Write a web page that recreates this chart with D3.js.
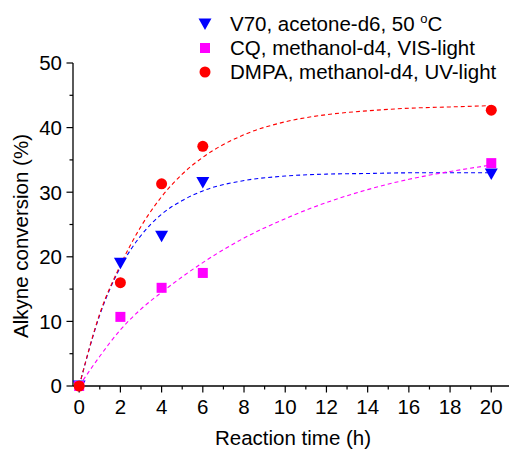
<!DOCTYPE html>
<html>
<head>
<meta charset="utf-8">
<script src="https://cdn.jsdelivr.net/npm/d3@7"></script>
<style>
  body { margin: 0; background: #fff; }
  svg { display: block; font-family: Arial, "Liberation Sans", sans-serif; }
</style>
</head>
<body>
<div id="chart"></div>
<script>
// measured points
const times = [0, 2, 4, 6, 20];
const v70 = [0, 19.0, 23.2, 31.5, 32.8];
const cq = [0, 10.7, 15.2, 17.5, 34.5];
const dmpa = [0, 16.0, 31.3, 37.1, 42.7];

// fitted curves
const fitTimes = [0, 1, 2, 3, 4, 5, 6, 8, 10, 12, 14, 16, 18, 20];
const v70Fit = [0, 11.0, 18.4, 23.3, 26.6, 28.7, 30.2, 31.8, 32.5, 32.8, 32.9, 33.0, 33.0, 33.0];
const cqFit = [0, 4.6, 8.7, 11.9, 14.5, 16.9, 19.1, 22.9, 25.9, 28.4, 30.4, 32.0, 33.2, 34.2];
const dmpaFit = [0, 11.2, 18.7, 24.7, 29.3, 32.8, 35.4, 38.9, 40.9, 42.0, 42.6, 43.0, 43.2, 43.4];

const xTicks = [0, 2, 4, 6, 8, 10, 12, 14, 16, 18, 20];
const yTicks = [0, 10, 20, 30, 40, 50];

const seriesNames = ["V70, acetone-d6, 50 ", "CQ, methanol-d4, VIS-light", "DMPA, methanol-d4, UV-light"];
const colors = ["#0000ff", "#ff00ff", "#ff0000"];
const shapes = ["triangle", "square", "circle"];

const series = [v70, cq, dmpa].map((vals, i) => ({
  name: seriesNames[i],
  color: colors[i],
  shape: shapes[i],
  points: times.map((t, j) => ({ t, v: vals[j] })),
  fit: fitTimes.map((t, j) => ({ t, v: [v70Fit, cqFit, dmpaFit][i][j] }))
}));

const width = 509, height = 449;
const fs = 20.5;

const x = d3.scaleLinear().domain([-0.3, 20.86]).range([73, 509]);
const y = d3.scaleLinear().domain([0, 50]).range([386, 63]);

const svg = d3.select("#chart").append("svg")
  .attr("width", width)
  .attr("height", height)
  .attr("viewBox", [0, 0, width, height]);

// x axis
const xAxis = svg.append("g").attr("transform", `translate(0,${y(0)})`);
xAxis.append("line")
  .attr("x1", x.range()[0]).attr("x2", x.range()[1])
  .attr("stroke", "#000").attr("stroke-width", 1.3);
xAxis.selectAll("line.minor")
  .data(d3.range(1, 21, 2))
  .join("line")
    .attr("class", "minor")
    .attr("x1", d => x(d)).attr("x2", d => x(d))
    .attr("y1", 0).attr("y2", 3.5)
    .attr("stroke", "#000").attr("stroke-width", 1.2);
xAxis.selectAll("line.major")
  .data(xTicks)
  .join("line")
    .attr("class", "major")
    .attr("x1", d => x(d)).attr("x2", d => x(d))
    .attr("y1", 0).attr("y2", 6.5)
    .attr("stroke", "#000").attr("stroke-width", 1.2);
xAxis.selectAll("text")
  .data(xTicks)
  .join("text")
    .attr("x", d => x(d))
    .attr("y", 28)
    .attr("text-anchor", "middle")
    .attr("font-size", fs)
    .text(d => d);

// y axis
const yAxis = svg.append("g").attr("transform", `translate(${x.range()[0]},0)`);
yAxis.append("line")
  .attr("y1", y(0)).attr("y2", y(50))
  .attr("stroke", "#000").attr("stroke-width", 1.3);
yAxis.selectAll("line.minor")
  .data(d3.range(5, 50, 10))
  .join("line")
    .attr("class", "minor")
    .attr("y1", d => y(d)).attr("y2", d => y(d))
    .attr("x1", 0).attr("x2", -3.5)
    .attr("stroke", "#000").attr("stroke-width", 1.2);
yAxis.selectAll("line.major")
  .data(yTicks)
  .join("line")
    .attr("class", "major")
    .attr("y1", d => y(d)).attr("y2", d => y(d))
    .attr("x1", 0).attr("x2", -6.5)
    .attr("stroke", "#000").attr("stroke-width", 1.2);
yAxis.selectAll("text")
  .data(yTicks)
  .join("text")
    .attr("x", -11)
    .attr("y", d => y(d))
    .attr("dy", "0.36em")
    .attr("text-anchor", "end")
    .attr("font-size", fs)
    .text(d => d);

// axis titles
svg.append("text")
  .attr("x", 293)
  .attr("y", 445)
  .attr("text-anchor", "middle")
  .attr("font-size", fs)
  .text("Reaction time (h)");

svg.append("text")
  .attr("transform", `translate(28,236) rotate(-90)`)
  .attr("text-anchor", "middle")
  .attr("font-size", fs)
  .text("Alkyne conversion (%)");

// fit lines
const line = d3.line()
  .x(d => x(d.t))
  .y(d => y(d.v))
  .curve(d3.curveMonotoneX);

svg.append("g")
  .selectAll("path")
  .data(series)
  .join("path")
    .attr("d", d => line(d.fit))
    .attr("fill", "none")
    .attr("stroke", d => d.color)
    .attr("stroke-width", 1.1)
    .attr("stroke-dasharray", "4,3");

// markers
function marker(sel, shape) {
  if (shape === "triangle") {
    sel.append("path").attr("d", "M-6.5,-5.5L6.5,-5.5L0,6Z");
  } else if (shape === "square") {
    sel.append("rect").attr("x", -5).attr("y", -5).attr("width", 10).attr("height", 10);
  } else {
    sel.append("circle").attr("r", 5.5);
  }
}

series.forEach(s => {
  const g = svg.append("g").attr("fill", s.color);
  g.selectAll("g")
    .data(s.points)
    .join("g")
      .attr("transform", d => `translate(${x(d.t)},${y(d.v)})`)
      .each(function () { marker(d3.select(this), s.shape); });
});

// legend
const legend = svg.append("g");
series.forEach((s, i) => {
  const row = legend.append("g")
    .attr("transform", `translate(205,${24 + i * 24})`)
    .attr("fill", s.color);
  marker(row, s.shape);
  const label = legend.append("text")
    .attr("x", 230)
    .attr("y", 24 + i * 24)
    .attr("dy", "0.36em")
    .attr("font-size", fs)
    .attr("fill", "#000")
    .text(s.name);
  if (i === 0) {
    label.append("tspan")
      .attr("font-size", 13)
      .attr("dy", -8)
      .text("o");
    label.append("tspan")
      .attr("dy", 8)
      .text("C");
  }
});
</script>
</body>
</html>
